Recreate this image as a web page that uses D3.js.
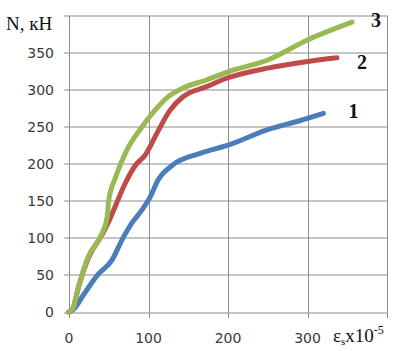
<!DOCTYPE html>
<html>
<head>
<meta charset="utf-8">
<script src="https://cdn.jsdelivr.net/npm/d3@7"></script>
<style>
  body { margin: 0; background: #fff; }
  svg { display: block; }
</style>
</head>
<body>
<div id="chart"></div>
<script>
// strain, x10^-5
const blueX = [0, 5, 20, 36, 54, 68, 79, 92, 102, 112, 130, 165, 200, 250, 290, 320];
const blueY = [0, 3, 26, 50, 70, 100, 120, 138, 155, 178, 198, 214, 225, 246, 258, 268];

const redX = [0, 5, 12, 24, 42, 50, 58, 70, 83, 96, 110, 127, 143, 173, 200, 250, 300, 337];
const redY = [0, 5, 34, 72, 105, 122, 142, 172, 197, 212, 240, 272, 290, 304, 316, 329, 338, 343];

const greenX = [0, 5, 12, 24, 42, 48, 50, 58, 73, 92, 108, 123, 143, 173, 200, 250, 300, 356];
const greenY = [0, 5, 34, 74, 107, 128, 151, 180, 219, 250, 272, 289, 302, 313, 324, 340, 367, 391];

const seriesNames = ['1', '2', '3'];
const xTicks = [0, 100, 200, 300];
const yTicks = [0, 50, 100, 150, 200, 250, 300, 350];

const WIDTH = 393;
const HEIGHT = 351;
const margin = { top: 15.5, right: 6, bottom: 39, left: 69 };
const colors = ['#4a7ebb', '#be4b48', '#98b954'];
const GRID = '#8c8c8c';
const TICK_FONT = '14px "DejaVu Sans", sans-serif';
const SERIF = '"Liberation Serif", "Times New Roman", serif';

const svg = d3.select('#chart')
  .append('svg')
  .attr('width', WIDTH)
  .attr('height', HEIGHT);

const g = svg.append('g')
  .attr('transform', `translate(${margin.left},${margin.top})`);

const w = WIDTH - margin.left - margin.right;
const h = HEIGHT - margin.top - margin.bottom;

const xScale = d3.scaleLinear().domain([0, 400]).range([0, w]);
const yScale = d3.scaleLinear().domain([0, 400]).range([h, 0]);

// grid (vertical lines incl. right edge at 400, ticks go out below)
g.append('g')
  .selectAll('line')
  .data([...xTicks, 400])
  .join('line')
  .attr('x1', (d) => Math.round(xScale(d)) + 0.5)
  .attr('x2', (d) => Math.round(xScale(d)) + 0.5)
  .attr('y1', 0)
  .attr('y2', h + 6)
  .attr('stroke', GRID)
  .attr('stroke-width', 1);

// horizontal grid, ticks go out to the left
g.append('g')
  .selectAll('line')
  .data([...yTicks, 400])
  .join('line')
  .attr('x1', -5)
  .attr('x2', w)
  .attr('y1', (d) => Math.round(yScale(d)) + 0.5)
  .attr('y2', (d) => Math.round(yScale(d)) + 0.5)
  .attr('stroke', GRID)
  .attr('stroke-width', 1);

// tick labels
g.append('g')
  .selectAll('text')
  .data(yTicks)
  .join('text')
  .attr('x', -15)
  .attr('y', (d) => yScale(d) + 5)
  .attr('text-anchor', 'end')
  .style('font', TICK_FONT)
  .style('fill', '#3a3a3a')
  .text((d) => d);

g.append('g')
  .selectAll('text')
  .data(xTicks)
  .join('text')
  .attr('x', (d) => xScale(d))
  .attr('y', h + 30.5)
  .attr('text-anchor', 'middle')
  .style('font', TICK_FONT)
  .style('fill', '#3a3a3a')
  .text((d) => d);

// axis titles
svg.append('text')
  .attr('x', 6)
  .attr('y', 30)
  .style('font-family', SERIF)
  .style('font-size', '19px')
  .style('fill', '#111')
  .text('N, кН');

const xt = svg.append('text')
  .attr('x', 333)
  .attr('y', 342)
  .style('font-family', SERIF)
  .style('font-size', '19px')
  .style('fill', '#111');
xt.append('tspan').text('ε');
xt.append('tspan').attr('dy', 3).style('font-size', '11px').text('s');
xt.append('tspan').attr('dy', -3).text('x10');
xt.append('tspan').attr('dy', -8).style('font-size', '12px').text('-5');

// curves
const series = [
  { x: blueX, y: blueY },
  { x: redX, y: redY },
  { x: greenX, y: greenY }
];

const line = d3.line()
  .curve(d3.curveMonotoneX)
  .x((d) => xScale(d[0]))
  .y((d) => yScale(d[1]));

series.forEach((s, i) => {
  const pts = s.x.map((v, k) => [v, s.y[k]]);
  g.append('path')
    .datum(pts)
    .attr('fill', 'none')
    .attr('stroke', colors[i])
    .attr('stroke-width', 5)
    .attr('stroke-linecap', 'round')
    .attr('stroke-linejoin', 'round')
    .attr('d', line);
});

// curve numbers next to the line ends
const labelOffsets = [[25, 5], [20, 11], [19, 5]];
series.forEach((s, i) => {
  const n = s.x.length - 1;
  g.append('text')
    .attr('x', xScale(s.x[n]) + labelOffsets[i][0])
    .attr('y', yScale(s.y[n]) + labelOffsets[i][1])
    .style('font-family', SERIF)
    .style('font-size', '20px')
    .style('font-weight', 'bold')
    .style('fill', '#111')
    .text(seriesNames[i]);
});
</script>
</body>
</html>
